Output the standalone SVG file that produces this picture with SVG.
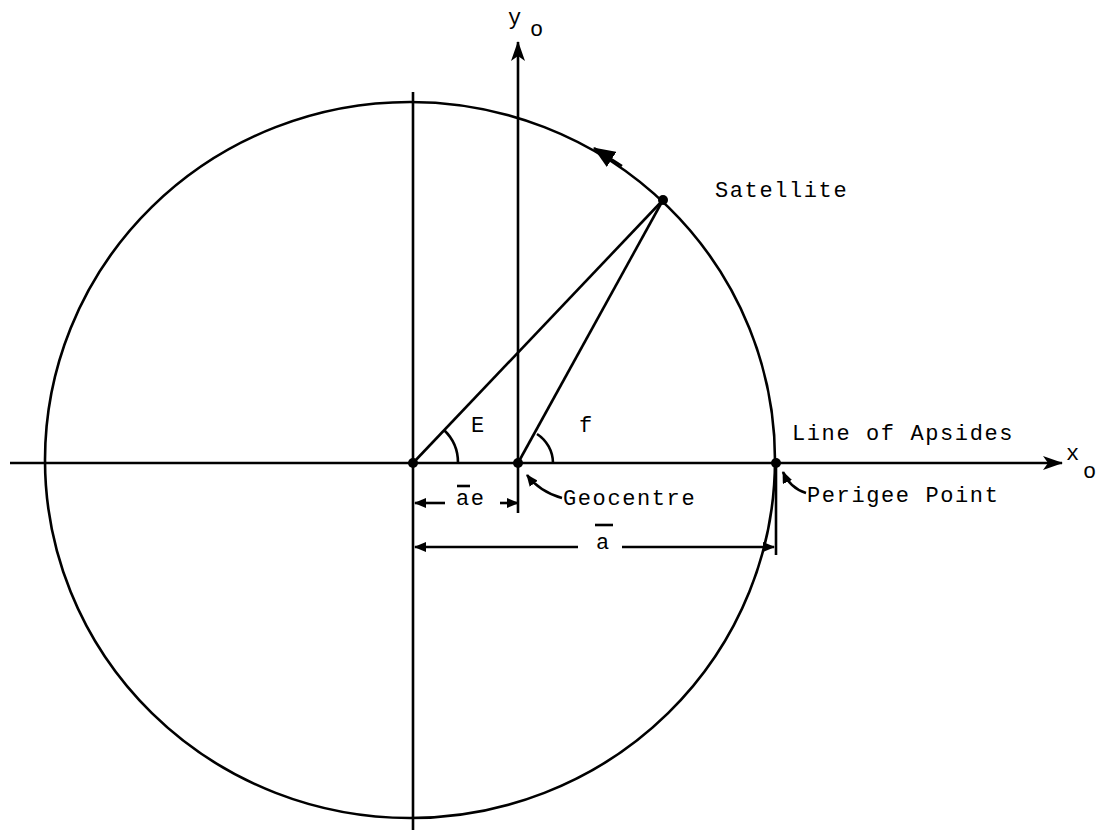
<svg xmlns="http://www.w3.org/2000/svg" width="1109" height="831" viewBox="0 0 1109 831">
<style>
.ln{fill:none;stroke:#000;stroke-width:2.6}
.t{font-family:"Liberation Mono","DejaVu Sans Mono",monospace;font-size:22px;letter-spacing:1.6px;fill:#000}
.dot{fill:#000}
</style>
<defs>
<marker id="ah" viewBox="0 0 20 14" refX="19" refY="7" markerWidth="20" markerHeight="14" markerUnits="userSpaceOnUse" orient="auto">
<path d="M0,0 L20,7 L0,14 L5,7 Z" fill="#000"/>
</marker>
<marker id="big" viewBox="0 0 22 18" refX="21" refY="9" markerWidth="22" markerHeight="18" markerUnits="userSpaceOnUse" orient="auto">
<path d="M0,0 L22,9 L0,18 Z" fill="#000"/>
</marker>
<marker id="sh" viewBox="0 0 12 10" refX="11" refY="5" markerWidth="12" markerHeight="10" markerUnits="userSpaceOnUse" orient="auto">
<path d="M0,0 L12,5 L0,10 Z" fill="#000"/>
</marker>
</defs>
<rect width="1109" height="831" fill="#fff"/>
<g id="orbit">
<ellipse class="ln" cx="410" cy="460" rx="365" ry="358"/>
<path d="M622,166 L594,148" fill="none" stroke="#000" stroke-width="2.6" marker-end="url(#big)"/>
</g>
<g id="connectors">
<line class="ln" x1="10" y1="463" x2="1062" y2="463" marker-end="url(#ah)"/>
<line class="ln" x1="518" y1="513" x2="518" y2="42" marker-end="url(#ah)"/>
<line class="ln" x1="413" y1="92" x2="413" y2="830"/>
<line class="ln" x1="413" y1="463" x2="663" y2="200"/>
<line class="ln" x1="518" y1="463" x2="663" y2="200"/>
<path class="ln" d="M458,463 A45,45 0 0 0 444,430"/>
<path class="ln" d="M553,463 A35,35 0 0 0 537,434"/>
<line class="ln" x1="776" y1="463" x2="776" y2="555"/>
<line class="ln" x1="445" y1="503" x2="415" y2="503" marker-end="url(#sh)"/>
<line class="ln" x1="500" y1="503" x2="518" y2="503" marker-end="url(#sh)"/>
<line class="ln" x1="578" y1="547" x2="415" y2="547" marker-end="url(#sh)"/>
<line class="ln" x1="622" y1="547" x2="774" y2="547" marker-end="url(#sh)"/>
<path class="ln" d="M562,498 Q540,492 527,475" marker-end="url(#sh)"/>
<path class="ln" d="M806,493 Q790,488 783,472" marker-end="url(#sh)"/>
</g>
<g id="points">
<circle class="dot" cx="413" cy="463" r="5"/>
<circle class="dot" cx="518" cy="463" r="5"/>
<circle class="dot" cx="776" cy="463" r="5"/>
<circle class="dot" cx="663" cy="200" r="5"/>
</g>
<g id="labels">
<text class="t" x="508" y="24">y</text>
<text class="t" x="530" y="36">o</text>
<text class="t" x="1066" y="460">x</text>
<text class="t" x="1083" y="478">o</text>
<text class="t" x="715" y="197">Satellite</text>
<text class="t" x="471" y="432">E</text>
<text class="t" x="579" y="432">f</text>
<text class="t" x="792" y="440">Line of Apsides</text>
<text class="t" x="563" y="505">Geocentre</text>
<text class="t" x="807" y="502">Perigee Point</text>
<text class="t" x="456" y="505">ae</text>
<line class="ln" x1="457" y1="486" x2="470" y2="486"/>
<text class="t" x="596" y="549">a</text>
<line class="ln" x1="595" y1="525" x2="613" y2="525"/>
</g>
</svg>
